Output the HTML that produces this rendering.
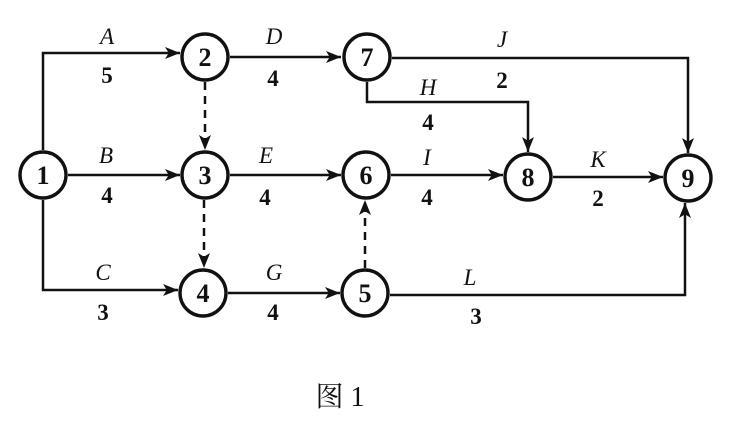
<!DOCTYPE html>
<html><head><meta charset="utf-8"><style>
body{margin:0;background:#fff}
svg text{font-family:"Liberation Serif","Noto Serif CJK SC",serif;fill:#111}
</style></head><body>
<svg width="733" height="437" viewBox="0 0 733 437" xmlns="http://www.w3.org/2000/svg">
<defs>
<marker id="b" viewBox="0 0 20 16" markerWidth="20" markerHeight="12" refX="20" refY="8" orient="auto" markerUnits="userSpaceOnUse"><path d="M0,0 L20,8 L0,16 L5,8 Z" fill="#111"/></marker></defs>
<g stroke="#111" stroke-width="2.5" fill="none">
<path d="M43,150 V53 H180" marker-end="url(#b)"/>
<path d="M68,175 H180" marker-end="url(#b)"/>
<path d="M43,200 V290 H178" marker-end="url(#b)"/>
<path d="M230,57 H341" marker-end="url(#b)"/>
<path d="M230,175 H341" marker-end="url(#b)"/>
<path d="M228,293 H340" marker-end="url(#b)"/>
<path d="M392,58 H688 V153" marker-end="url(#b)"/>
<path d="M367,82 V102 H528 V152" marker-end="url(#b)"/>
<path d="M391,175 H503" marker-end="url(#b)"/>
<path d="M553,177 H663" marker-end="url(#b)"/>
<path d="M390,295 H685 V203" marker-end="url(#b)"/>
<path d="M205,82 V150" stroke-dasharray="8,6" marker-end="url(#b)"/>
<path d="M204,200 V268" stroke-dasharray="8,6" marker-end="url(#b)"/>
<path d="M365,268 V200" stroke-dasharray="8,6" marker-end="url(#b)"/>
</g>
<g stroke="#111" stroke-width="3.4" fill="#fff">
<circle cx="43" cy="175" r="23"/><circle cx="205" cy="57" r="23"/><circle cx="205" cy="175" r="23"/>
<circle cx="203" cy="293" r="23"/><circle cx="365" cy="293" r="23"/><circle cx="366" cy="175" r="23"/>
<circle cx="367" cy="57" r="23"/><circle cx="528" cy="177" r="23"/><circle cx="688" cy="178" r="23"/>
</g>
<g font-size="26" font-weight="bold" text-anchor="middle">
<text x="43" y="184">1</text><text x="205" y="66">2</text><text x="205" y="184">3</text>
<text x="203" y="302">4</text><text x="365" y="302">5</text><text x="366" y="184">6</text>
<text x="367" y="66">7</text><text x="528" y="186">8</text><text x="688" y="187">9</text>
</g>
<g font-size="23" text-anchor="middle">
<g font-style="italic">
<text x="107" y="44">A</text><text x="274" y="44">D</text><text x="502" y="47">J</text><text x="428" y="95">H</text>
<text x="106" y="163">B</text><text x="266" y="163">E</text><text x="427" y="165">I</text><text x="598" y="167">K</text>
<text x="103" y="280">C</text><text x="274" y="280">G</text><text x="470" y="285">L</text>
</g>
<g font-weight="bold">
<text x="107" y="83">5</text><text x="273" y="86">4</text><text x="502" y="88">2</text><text x="428" y="130">4</text>
<text x="107" y="203">4</text><text x="265" y="205">4</text><text x="427" y="205">4</text><text x="598" y="206">2</text>
<text x="103" y="320">3</text><text x="273" y="320">4</text><text x="476" y="324">3</text>
</g>
</g>
<text x="340" y="406" font-size="28" text-anchor="middle">图 1</text>
</svg>
</body></html>
